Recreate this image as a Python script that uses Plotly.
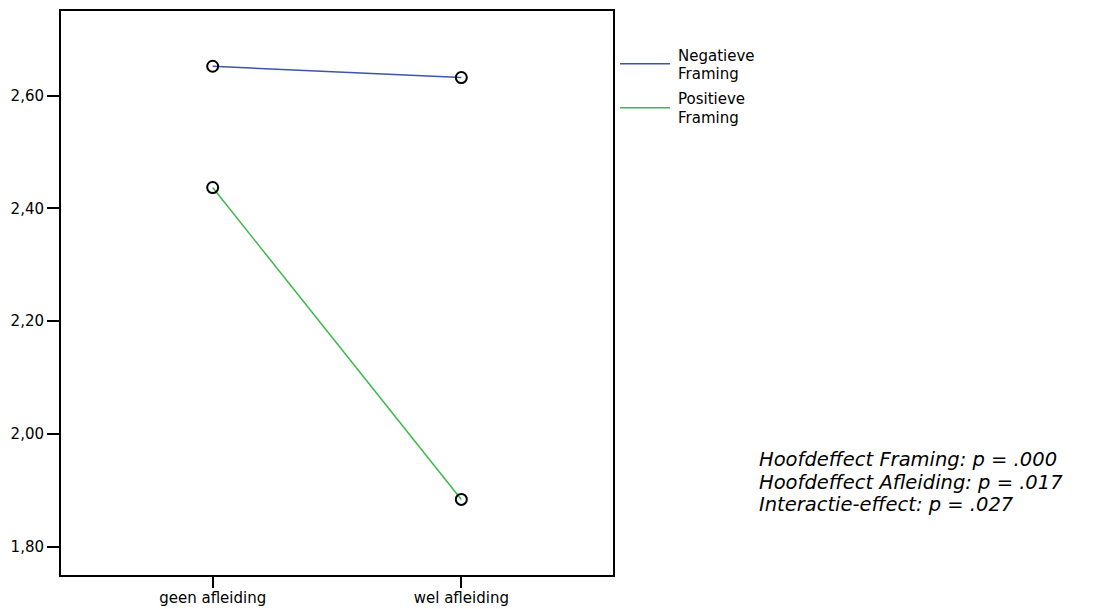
import plotly.graph_objects as go

categories = ["geen afleiding", "wel afleiding"]
neg_values = [2.652, 2.632]
pos_values = [2.437, 1.884]
series_names = ["Negatieve Framing", "Positieve Framing"]
legend_lines = [["Negatieve", "Framing"], ["Positieve", "Framing"]]
series_colors = ["#3b55a8", "#3cb84b"]
y_tickvals = [1.80, 2.00, 2.20, 2.40, 2.60]
y_ticktext = ["1,80", "2,00", "2,20", "2,40", "2,60"]
stats_text = ["Hoofdeffect Framing: p = .000",
              "Hoofdeffect Afleiding: p = .017",
              "Interactie-effect: p = .027"]

FONT = "DejaVu Sans, Liberation Sans, Arial, sans-serif"

fig = go.Figure()
for vals, name, col in zip([neg_values, pos_values], series_names, series_colors):
    fig.add_trace(go.Scatter(x=categories, y=vals, mode="lines", name=name,
                             showlegend=False, line=dict(color=col, width=1.5)))
for vals in [neg_values, pos_values]:
    fig.add_trace(go.Scatter(x=categories, y=vals, mode="markers", showlegend=False,
                             marker=dict(symbol="circle-open", size=11,
                                         color="black", line=dict(width=2, color="black"))))

fig.update_layout(
    width=1097, height=609,
    margin=dict(l=61, r=484, t=11, b=34, autoexpand=False),
    plot_bgcolor="white", paper_bgcolor="white",
    font=dict(family=FONT, size=15, color="black"),
    showlegend=False,
    xaxis=dict(type="category", range=[-0.61, 1.61], showline=True, linecolor="black",
               linewidth=2, mirror=True, ticks="outside", ticklen=11, tickwidth=2,
               tickcolor="black", showgrid=False, zeroline=False, automargin=False,
               ticklabelstandoff=-3, tickfont=dict(size=15)),
    yaxis=dict(range=[1.75, 2.75], tickvals=y_tickvals, ticktext=y_ticktext,
               showline=True, linecolor="black", linewidth=2, mirror=True,
               ticks="outside", ticklen=12, tickwidth=2, tickcolor="black",
               showgrid=False, zeroline=False, automargin=False, tickfont=dict(size=15)),
)

# manual legend (line samples + two-line labels)
legend_line_y = [0.9066, 0.8285]
legend_text_y = [[0.9199, 0.8887], [0.8443, 0.8106]]
for col, ly, words, tys in zip(series_colors, legend_line_y, legend_lines, legend_text_y):
    fig.add_shape(type="line", xref="paper", yref="paper", x0=1.0127, x1=1.1033,
                  y0=ly, y1=ly, line=dict(color=col, width=1.5))
    for w, ty in zip(words, tys):
        fig.add_annotation(xref="paper", yref="paper", x=1.1160, y=ty, xanchor="left",
                           yanchor="middle", showarrow=False, text=w, borderpad=0,
                           font=dict(size=15, color="black", family=FONT))

stats_y = [0.2040, 0.1641, 0.1242]
for t, sy in zip(stats_text, stats_y):
    fig.add_annotation(xref="paper", yref="paper", x=1.2630, y=sy, xanchor="left",
                       yanchor="middle", showarrow=False, text=t, borderpad=0,
                       font=dict(size=19.5, color="black", family=FONT, style="italic"))

fig.write_html("out.html", config={"displayModeBar": False},
               post_script="document.body.style.margin='0';document.body.style.overflow='hidden';")
